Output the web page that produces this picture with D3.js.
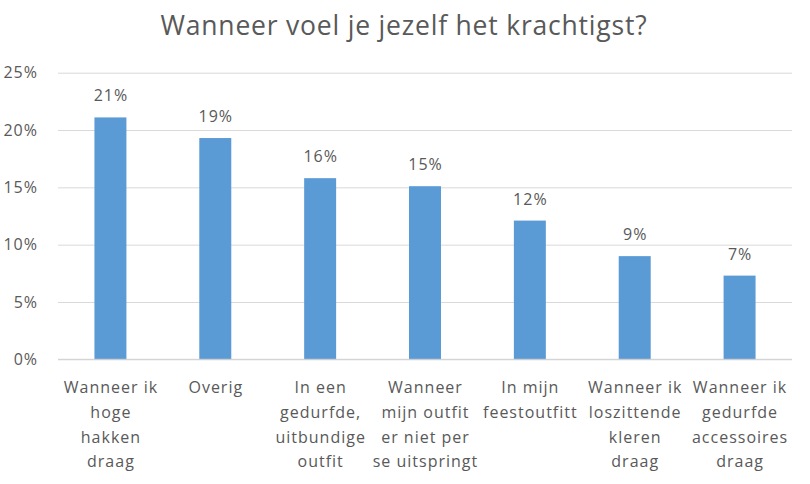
<!DOCTYPE html>
<html>
<head>
<meta charset="utf-8">
<script src="https://cdnjs.cloudflare.com/ajax/libs/d3/7.8.5/d3.min.js"></script>
<style>
  html, body { margin: 0; padding: 0; background: #fff; }
  svg { display: block; }
  text { font-family: "Open Sans", Lato, sans-serif; fill: #595959; }
</style>
</head>
<body>
<svg id="chart" width="810" height="484"></svg>
<script>
const title = "Wanneer voel je jezelf het krachtigst?";
const categories = [
  ["Wanneer ik", "hoge", "hakken", "draag"],
  ["Overig"],
  ["In een", "gedurfde,", "uitbundige", "outfit"],
  ["Wanneer", "mijn outfit", "er niet per", "se uitspringt"],
  ["In mijn", "feestoutfitt"],
  ["Wanneer ik", "loszittende", "kleren", "draag"],
  ["Wanneer ik", "gedurfde", "accessoires", "draag"]
];
const values = [21.1, 19.3, 15.8, 15.1, 12.1, 9.0, 7.3];
const valueLabels = ["21%", "19%", "16%", "15%", "12%", "9%", "7%"];
const yTicks = [0, 5, 10, 15, 20, 25];

const svg = d3.select("#chart");
const margin = { left: 58, right: 18 };
const W = 810;
const x0 = margin.left, x1 = W - margin.right;
const yBase = 359.3, yTop = 72.7;

const x = d3.scaleBand().domain(d3.range(categories.length)).range([x0, x1]).paddingInner(0.695).paddingOuter(0.3475);
const y = d3.scaleLinear().domain([0, 25]).range([yBase, yTop]);

// Title
svg.append("text")
  .attr("x", 404).attr("y", 35)
  .attr("text-anchor", "middle")
  .style("font-size", "26.5px")
  .style("letter-spacing", "0.8px")
  .text(title);

// Gridlines + y ticks
const yAxis = d3.axisLeft(y).tickValues(yTicks).tickSize(-(x1 - x0)).tickFormat(d => d + "%").tickPadding(20);
const ga = svg.append("g").attr("transform", `translate(${x0},0)`).call(yAxis);
ga.select(".domain").remove();
ga.selectAll(".tick line").attr("stroke", "#d9d9d9").attr("stroke-width", 1);
ga.selectAll(".tick text").style("font-size", "16px").style("letter-spacing", "1px")
  .style("fill", "#595959").attr("font-family", "'Open Sans', Lato, sans-serif");

// Bars
svg.append("g").selectAll("rect").data(values).join("rect")
  .attr("x", (d, i) => x(i))
  .attr("width", x.bandwidth())
  .attr("y", d => y(d))
  .attr("height", d => yBase - y(d))
  .attr("fill", "#5B9BD5");

// Baseline
svg.append("line").attr("x1", x0).attr("x2", x1).attr("y1", yBase).attr("y2", yBase)
  .attr("stroke", "#d0d0d0").attr("stroke-width", 1);

// Value labels
svg.append("g").selectAll("text").data(values).join("text")
  .attr("x", (d, i) => x(i) + x.bandwidth() / 2 + 0.5)
  .attr("y", d => y(d) - 16)
  .attr("text-anchor", "middle")
  .style("font-size", "16px")
  .style("letter-spacing", "1px")
  .text((d, i) => valueLabels[i]);

// Category labels
const cg = svg.append("g").selectAll("text").data(categories).join("text")
  .attr("text-anchor", "middle")
  .style("font-size", "16px")
  .style("letter-spacing", "1px");
cg.each(function(lines, i) {
  const t = d3.select(this);
  lines.forEach((ln, j) => {
    t.append("tspan")
      .attr("x", x(i) + x.bandwidth() / 2 + 0.5)
      .attr("y", 393 + j * 24.8)
      .text(ln);
  });
});
</script>
</body>
</html>
